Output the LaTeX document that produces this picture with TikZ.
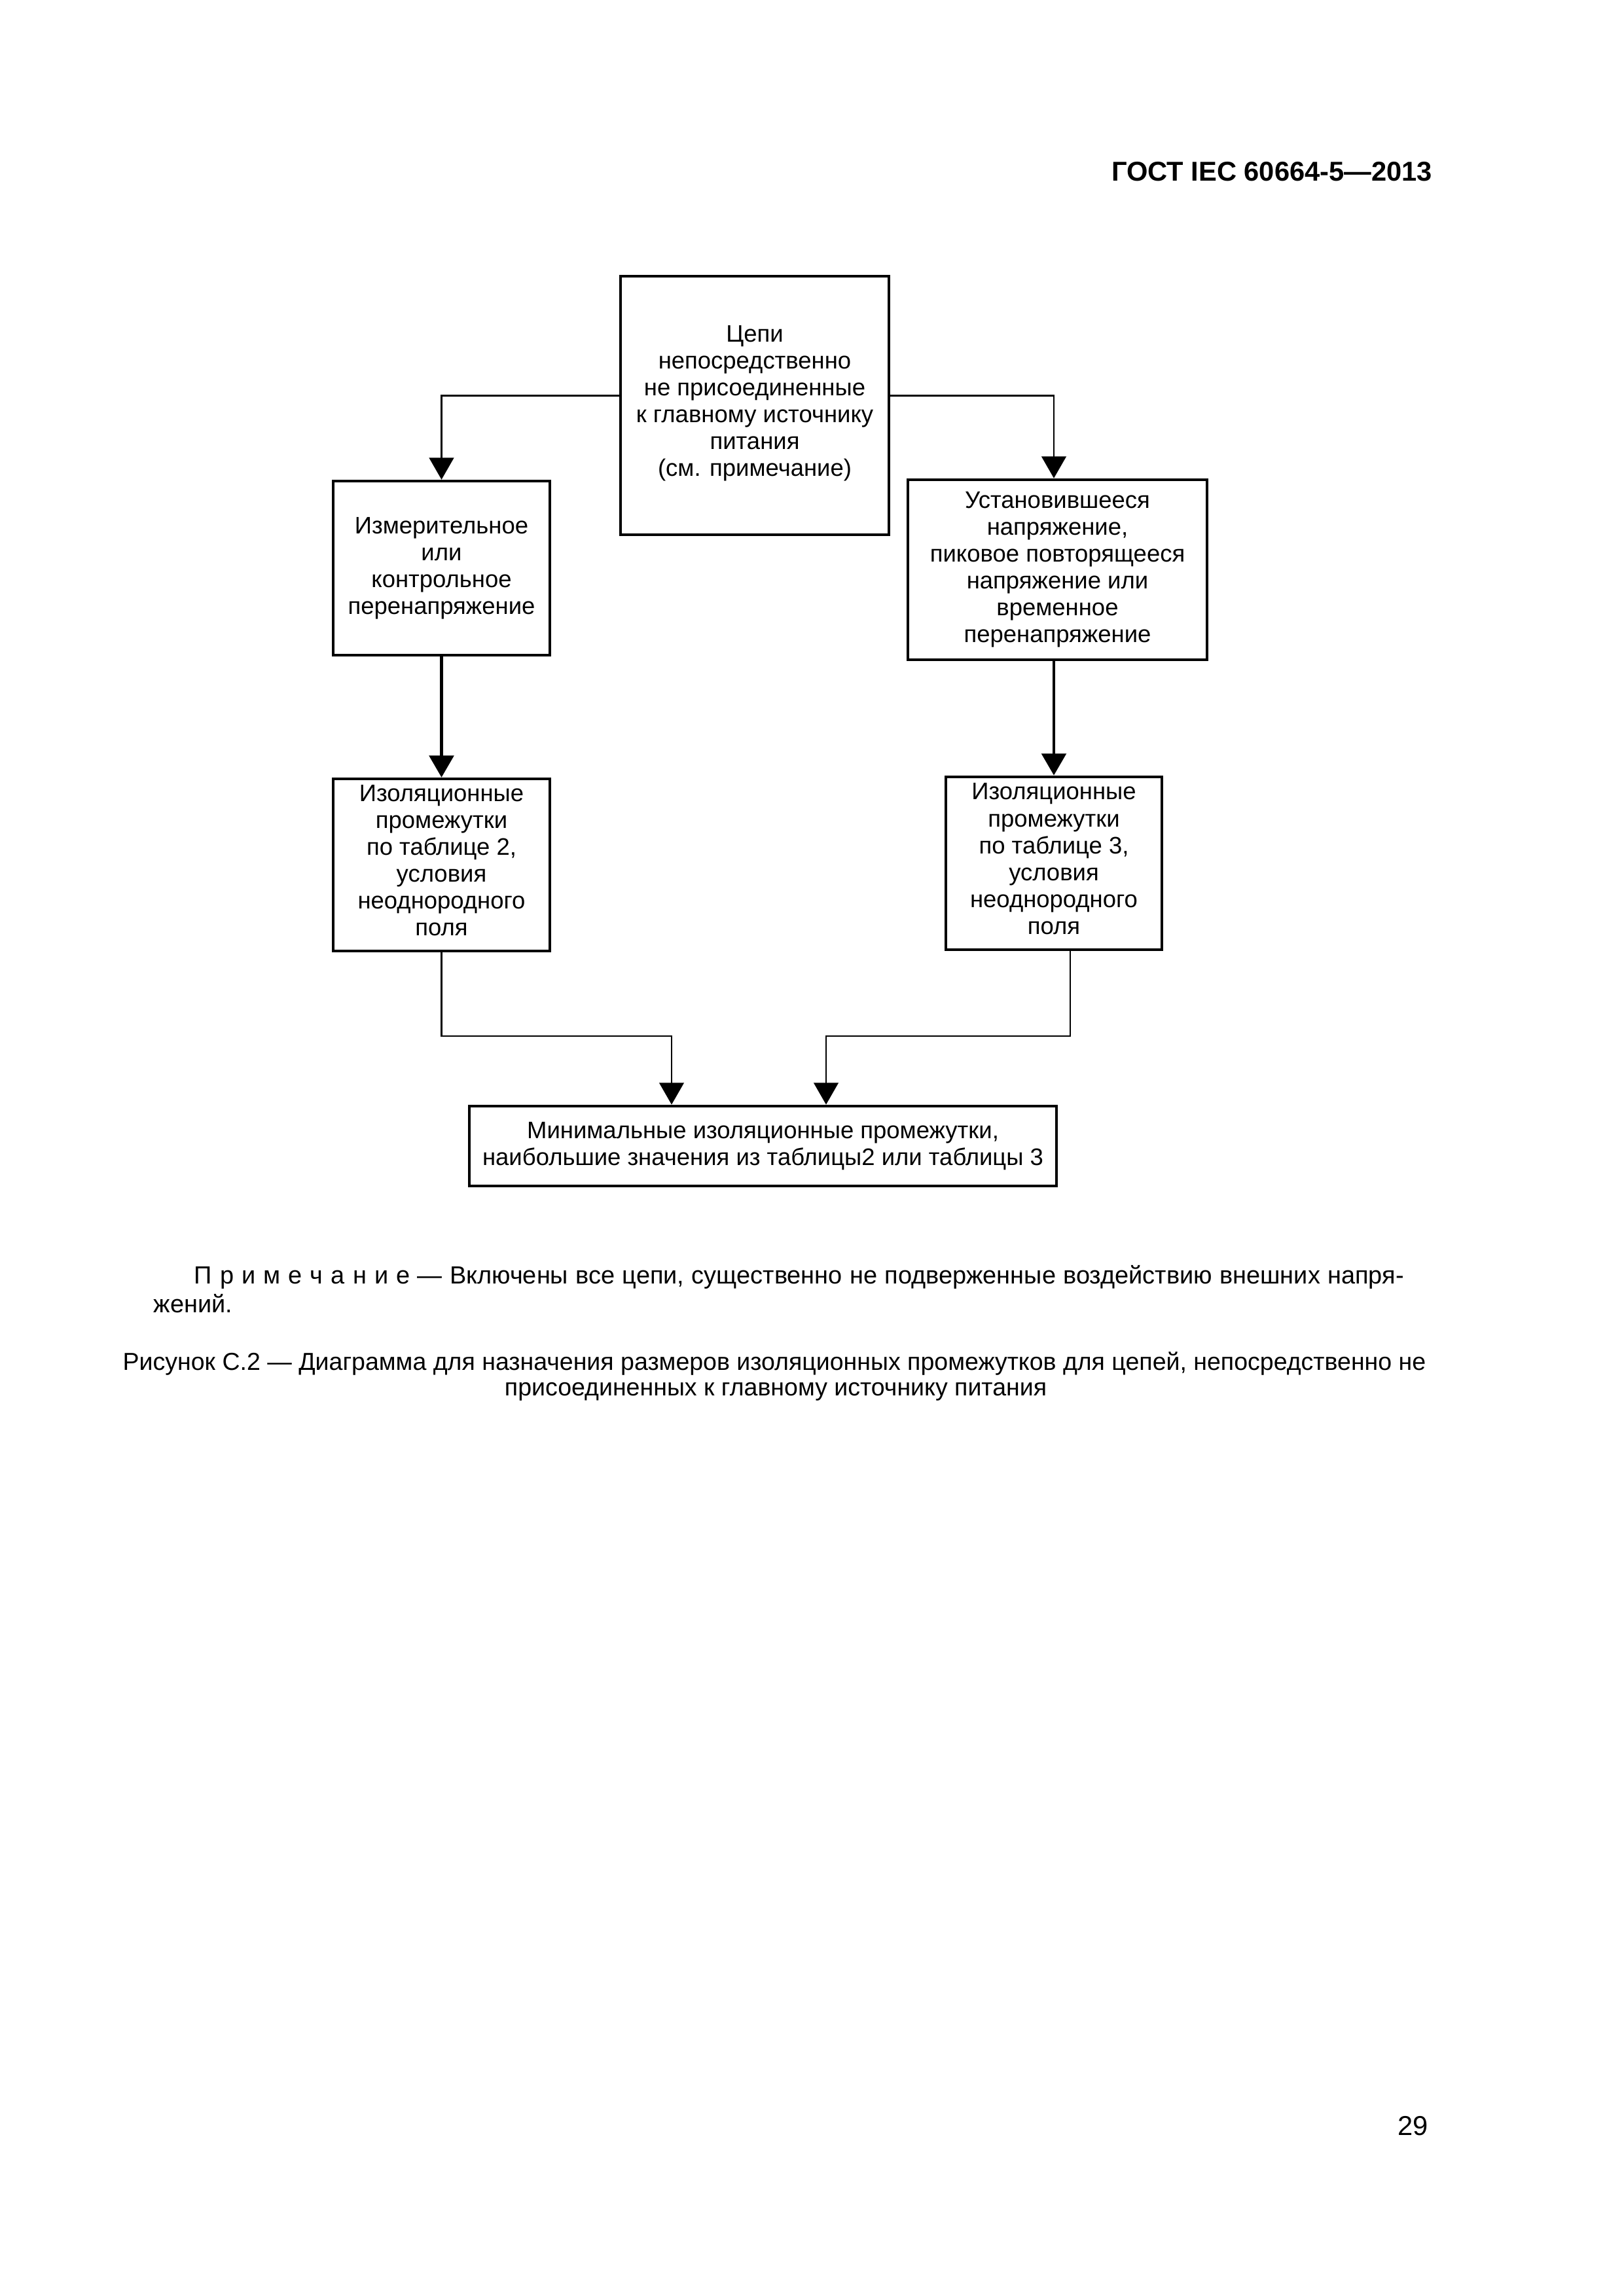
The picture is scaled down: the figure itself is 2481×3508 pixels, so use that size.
\documentclass[tikz,border=0pt]{standalone}
\usepackage{fontspec}
\setmainfont{Liberation Sans}
\usetikzlibrary{arrows.meta}
\newcommand{\lsp}{\hspace{2.9pt}}
\begin{document}
\begin{tikzpicture}[x=0.23993pt,y=-0.23993pt,
  box/.style={draw,line width=1.1pt,inner sep=0pt,align=center,font=\fontsize{8.75}{9.85}\selectfont},
  conn/.style={line width=0.7pt},
  arr/.style={conn,-{Triangle[length=8pt,width=9pt]}},
  thickarr/.style={arr,line width=1pt},
  txt/.style={inner sep=0pt,font=\fontsize{9}{11}\selectfont}]
\fill[white] (0,0) rectangle (2481,3508);
\useasboundingbox (0,0) rectangle (2481,3508);

\node[box,minimum width=98.4pt,minimum height=94.8pt] (top) at (1153,619.5)
  {Цепи\\непосредственно\\не присоединенные\\к главному источнику\\питания\\(см. примечание)\\[-6.5pt]};
\node[box,minimum width=79.4pt,minimum height=63.8pt] (lb1) at (674.5,868)
  {Измерительное\\или\\контрольное\\перенапряжение};
\node[box,minimum width=79.4pt,minimum height=63.1pt] (lb2) at (674.5,1321.5)
  {Изоляционные\\промежутки\\по таблице 2,\\условия\\неоднородного\\поля\\[-6.5pt]};
\node[box,minimum width=109.7pt,minimum height=66pt] (rb1) at (1615.5,870.5)
  {Установившееся\\напряжение,\\пиковое повторящееся\\напряжение или\\временное\\перенапряжение};
\node[box,minimum width=79.2pt,minimum height=63.4pt] (rb2) at (1610,1319)
  {Изоляционные\\промежутки\\по таблице 3,\\условия\\неоднородного\\поля\\[-6.5pt]};
\node[box,minimum width=215.3pt,minimum height=29.3pt] (bot) at (1165.5,1751)
  {Минимальные изоляционные промежутки,\\наибольшие значения из таблицы2 или таблицы 3};

\draw[arr] ([yshift=3.7pt]top.west) -| (lb1.north);
\draw[arr] ([yshift=3.7pt]top.east) -| (rb1.north -| rb2.north);
\draw[thickarr] (lb1.south) -- (lb2.north);
\draw[thickarr] (rb1.south -| rb2.north) -- (rb2.north);
\coordinate (kl) at (1026,1583);
\coordinate (kr) at (1262,1583);
\draw[arr] (lb2.south) |- (kl) -- (kl |- bot.north);
\draw[arr] ([xshift=6pt]rb2.south) |- (kr) -- (kr |- bot.north);

\node[txt,anchor=east,font=\bfseries\fontsize{10}{12}\selectfont] (hdr) at (2189,262) {ГОСТ IEC 60664-5—2013};
\node[txt,anchor=west,font=\fontsize{9.1}{11}\selectfont] (note1) at (296,1951)
  {\hbox to 443.4pt{П\lsp р\lsp и\lsp м\lsp е\lsp ч\lsp а\lsp н\lsp и\lsp е — Включены все цепи, существенно не подверженные воздействию внешних напря-}};
\node[txt,anchor=west,font=\fontsize{9.1}{11}\selectfont] (note2) at (234,1992) {жений.};
\node[txt] (cap1) at (1183,2083) {Рисунок С.2 — Диаграмма для назначения размеров изоляционных промежутков для цепей, непосредственно не};
\node[txt] (cap2) at (1185,2126) {присоединенных к главному источнику питания};
\node[txt,anchor=east,font=\fontsize{10}{12}\selectfont] (pg) at (2183,3248) {29};
\end{tikzpicture}
\end{document}
